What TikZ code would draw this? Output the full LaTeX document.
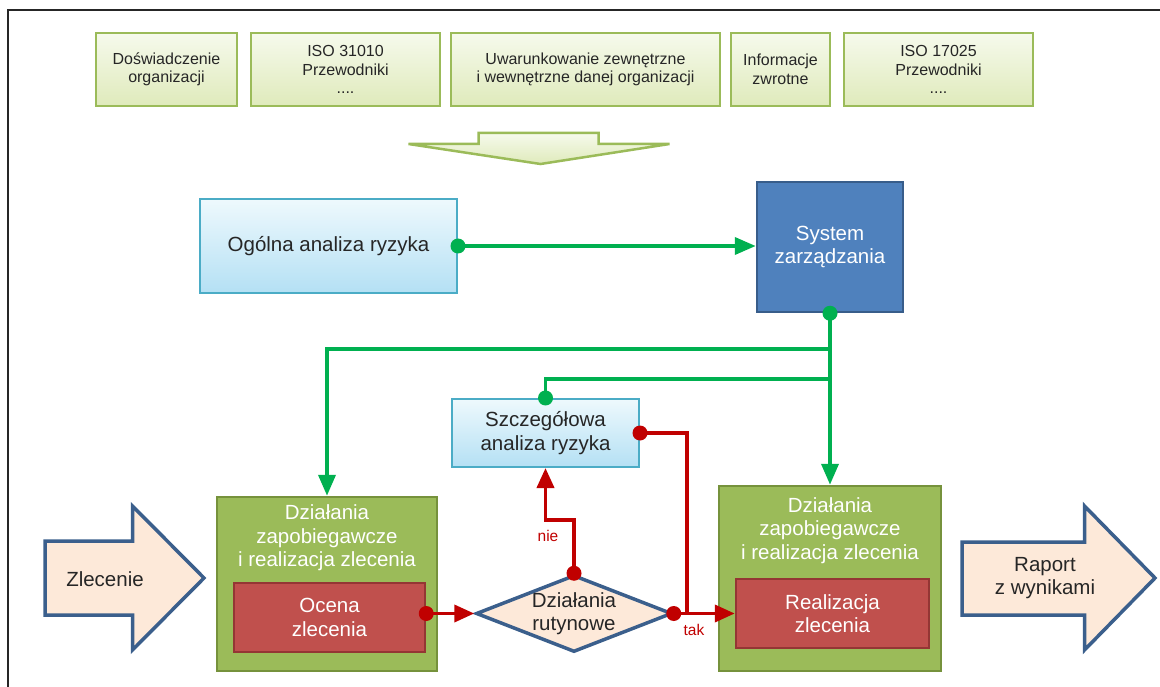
\documentclass[tikz,border=0pt]{standalone}
\usepackage{fontspec}
\setmainfont{Liberation Sans}
\usetikzlibrary{arrows.meta,shapes.geometric,shadings}
\definecolor{lgborder}{HTML}{9BBB59}
\definecolor{lgtop}{HTML}{F6FAEC}
\definecolor{lgbot}{HTML}{DFEABB}
\definecolor{ggreen}{HTML}{00B050}
\definecolor{rred}{HTML}{C00000}
\definecolor{bluebd}{HTML}{3B5F8C}
\definecolor{peach}{HTML}{FDE9D9}
\definecolor{olive}{HTML}{9BBB59}
\definecolor{olivebd}{HTML}{76923C}
\definecolor{redbox}{HTML}{C0504D}
\definecolor{redboxbd}{HTML}{943634}
\definecolor{sysblue}{HTML}{4F81BD}
\definecolor{sysbd}{HTML}{385D8A}
\definecolor{cyanbd}{HTML}{4BACC6}
\definecolor{cyantop}{HTML}{EEF9FD}
\definecolor{cyanbot}{HTML}{B4E0F4}
\definecolor{txtgray}{HTML}{262626}
\tikzset{
  topbox/.style={draw=lgborder, line width=2.5pt, top color=lgtop, bottom color=lgbot,
    inner sep=0pt, align=center, text=txtgray, font=\fontsize{16}{18.5}\selectfont},
  bigtxt/.style={align=center, font=\fontsize{20.5}{23.5}\selectfont, text=txtgray},
  cyanbox/.style={bigtxt, draw=cyanbd, line width=2pt, top color=cyantop, bottom color=cyanbot, inner sep=0pt},
  sysbox/.style={bigtxt, draw=sysbd, line width=2.5pt, fill=sysblue, text=white, inner sep=0pt},
  olivebox/.style={draw=olivebd, line width=2.5pt, fill=olive, inner sep=0pt},
  redinner/.style={bigtxt, draw=redboxbd, line width=2.5pt, fill=redbox, text=white, inner sep=0pt},
  whitetxt/.style={bigtxt, text=white},
  bluearrow/.style={draw=bluebd, line width=3.5pt, fill=peach, line join=miter},
  gline/.style={draw=ggreen, line width=3.8pt},
  rline/.style={draw=rred, line width=3.8pt},
  garrow/.style={-{Triangle[length=21pt,width=17pt]}},
  rarrow/.style={-{Triangle[length=20pt,width=17pt]}},
  redlabel/.style={text=rred, font=\fontsize{15.5}{18}\selectfont, inner sep=0pt},
}
\begin{document}
\begin{tikzpicture}[x=1pt,y=-1pt]
\useasboundingbox (0,0) rectangle (1160,687);
% frame
\draw[line width=1.5pt, black!85] (8,687) -- (8,10) -- (1160,10);

% top boxes
\node[topbox, minimum width=141pt, minimum height=73pt] (t1) at (166.5,69.5) {Doświadczenie\\organizacji};
\node[topbox, minimum width=189pt, minimum height=73pt] (t2) at (345.5,69.5) {ISO 31010\\Przewodniki\\....};
\node[topbox, minimum width=269pt, minimum height=73pt] (t3) at (585.5,69.5) {Uwarunkowanie zewnętrzne\\i wewnętrzne danej organizacji};
\node[topbox, minimum width=99pt, minimum height=73pt] (t4) at (780.5,69.5) {Informacje\\zwrotne};
\node[topbox, minimum width=189pt, minimum height=73pt] (t5) at (938.5,69.5) {ISO 17025\\Przewodniki\\....};

% big down arrow
\draw[draw=lgborder, line width=2.5pt, top color=lgtop, bottom color=lgbot, line join=miter]
  (408.5,144) -- (478.5,144) -- (478.5,133) -- (598.5,133) -- (598.5,144) -- (669.5,144) -- (540.5,164) -- cycle;

% main boxes
\node[cyanbox, minimum width=257pt, minimum height=94pt] (ogolna) at (328.5,246) {Ogólna analiza ryzyka};
\node[sysbox, minimum width=146pt, minimum height=130pt] (system) at (830,247) {System\\zarządzania};
\node[cyanbox, minimum width=187pt, minimum height=68pt] (szcz) at (545.5,433) {Szczegółowa\\analiza ryzyka};

\node[olivebox, minimum width=220pt, minimum height=174pt] (lg) at (327,584) {};
\node[whitetxt] (lgt) at (327,538) {Działania\\zapobiegawcze\\i realizacja zlecenia};
\node[redinner, minimum width=191pt, minimum height=69pt] (ocena) at (329.5,617.5) {Ocena\\zlecenia};

\node[olivebox, minimum width=222pt, minimum height=185pt] (rg) at (830,578.5) {};
\node[whitetxt] (rgt) at (830,530.5) {Działania\\zapobiegawcze\\i realizacja zlecenia};
\node[redinner, minimum width=193pt, minimum height=69pt] (real) at (832.5,613.5) {Realizacja\\zlecenia};

% diamond
\node[diamond, draw=bluebd, line width=3.5pt, fill=peach, inner sep=0pt,
      minimum width=196pt, minimum height=77pt] (rut) at (574,613.5) {};
\node[bigtxt] (rutt) at (574,613.5) {Działania\\rutynowe};

% side arrows
\draw[bluearrow] (45,541) -- (132.5,541) -- (132.5,506) -- (204,578) -- (132.5,650) -- (132.5,615) -- (45,615) -- cycle;
\node[bigtxt] (zl) at (105,579) {Zlecenie};
\draw[bluearrow] (962,542) -- (1084.5,542) -- (1084.5,506) -- (1155,578) -- (1084.5,650) -- (1084.5,615) -- (962,615) -- cycle;
\node[bigtxt] (rap) at (1045,578) {Raport\\z wynikami};

% green connectors
\coordinate (j1) at (830,349);
\coordinate (j2) at (830,379);
\draw[gline, garrow] (ogolna.east) -- (ogolna.east -| system.west);
\draw[gline, garrow] (system.south) -- (system.south |- rg.north);
\draw[gline, garrow] (j1) -| (lg.north);
\draw[gline] (j2) -| (szcz.north);
\fill[ggreen] (ogolna.east) circle (7.5pt);
\fill[ggreen] (system.south) circle (7.5pt);
\fill[ggreen] (szcz.north) circle (7.5pt);

% red connectors
\coordinate (oc) at (ocena.east |- rut.west);
\coordinate (tj) at (687,613.5);
\draw[rline, rarrow] (oc) -- (rut.west);
\draw[rline, rarrow] (rut.north) -- ++(0,-53) -| (szcz.south);
\draw[rline, rarrow] (rut.east) -- (rut.east -| real.west);
\draw[rline] (szcz.east) -| (tj);
\fill[rred] (oc) circle (7.5pt);
\fill[rred] (rut.north) circle (7.5pt);
\fill[rred] (rut.east) circle (7.5pt);
\fill[rred] (szcz.east) circle (7.5pt);
\node[redlabel] (nie) at (548,536) {nie};
\node[redlabel] (tak) at (694,630) {tak};
\end{tikzpicture}
\end{document}
